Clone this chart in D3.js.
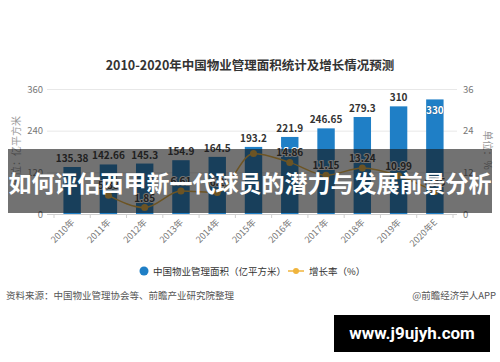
<!DOCTYPE html>
<html>
<head>
<meta charset="utf-8">
<script src="https://cdn.jsdelivr.net/npm/d3@7/dist/d3.min.js"></script>
<style>
  body { margin: 0; background: #fff; }
  svg { display: block; font-family: "Noto Sans CJK SC", "Noto Sans", sans-serif; }
</style>
</head>
<body>
<script>
var years = ['2010年', '2011年', '2012年', '2013年', '2014年', '2015年', '2016年', '2017年', '2018年', '2019年', '2020年E'];
var area = [135.38, 142.66, 145.3, 154.9, 164.5, 193.2, 221.9, 246.65, 279.3, 310, 330];
var areaLabels = ['135.38', '142.66', '145.3', '154.9', '164.5', '193.2', '221.9', '246.65', '279.3', '310', '330'];
// growth rate, no value for 2010
var rate = [null, 5.38, 1.85, 6.61, 6.20, 17.45, 14.86, 11.15, 13.24, 10.99, 6.45];
var rateLabels = ['', '5.38', '1.85', '6.61', '6.2', '', '14.86', '11.15', '13.24', '10.99', '6.45'];
var leftTicks = [0, 120, 240, 360];
var rightTicks = [0, 12, 24, 36];

var width = 500, height = 362;
var barColor = '#1f7fc6', lineColor = '#f0b43c';

var svg = d3.select('body').append('svg')
  .attr('width', width)
  .attr('height', height);

svg.append('rect').attr('width', width).attr('height', height).attr('fill', '#fff');

var x = d3.scaleBand().domain(years).range([54, 453]).paddingInner(0.52).paddingOuter(0.26);
var y = d3.scaleLinear().domain([0, 360]).range([214, 89]);
var yr = d3.scaleLinear().domain([0, 36]).range([214, 89]);

// title
svg.append('text')
  .attr('x', 250).attr('y', 70)
  .attr('text-anchor', 'middle')
  .attr('font-size', 12.5).attr('font-weight', 'bold').attr('fill', '#333')
  .text('2010-2020年中国物业管理面积统计及增长情况预测');

// grid
var g = svg.append('g');
g.selectAll('line.grid')
  .data(leftTicks)
  .enter().append('line')
  .attr('x1', 47).attr('x2', 457)
  .attr('y1', function(d){ return y(d) + 0.5; })
  .attr('y2', function(d){ return y(d) + 0.5; })
  .attr('stroke', function(d){ return d == 0 ? '#cfcfcf' : '#e8e8e8'; })
  .attr('stroke-width', 1);

// tick marks on x axis
g.selectAll('line.xt')
  .data(years.concat(['end']))
  .enter().append('line')
  .attr('x1', function(d, i){ return 54 + i * x.step() - x.step() * 0.26 + x.step() * 0.26; })
  .attr('x2', function(d, i){ return 54 + i * x.step(); })
  .attr('y1', 214).attr('y2', 218)
  .attr('stroke', '#cfcfcf');

// left axis labels
g.selectAll('text.yl')
  .data(leftTicks)
  .enter().append('text')
  .attr('x', 43).attr('y', function(d){ return y(d) + 3.5; })
  .attr('text-anchor', 'end')
  .attr('font-size', 9.5).attr('fill', '#777')
  .text(function(d){ return d; });

// right axis labels
g.selectAll('text.yr')
  .data(rightTicks)
  .enter().append('text')
  .attr('x', 463).attr('y', function(d){ return yr(d) + 3.5; })
  .attr('text-anchor', 'start')
  .attr('font-size', 9.5).attr('fill', '#777')
  .text(function(d){ return d; });

// axis titles
svg.append('text')
  .attr('transform', 'translate(20,151) rotate(-90)')
  .attr('text-anchor', 'middle')
  .attr('font-size', 10).attr('fill', '#999')
  .text('单位：亿平方米');
svg.append('text')
  .attr('transform', 'translate(484,150) rotate(90)')
  .attr('text-anchor', 'middle')
  .attr('font-size', 10).attr('fill', '#999')
  .text('单位：%');

// bars
g.selectAll('rect.bar')
  .data(area)
  .enter().append('rect')
  .attr('x', function(d, i){ return x(years[i]); })
  .attr('y', function(d){ return y(d); })
  .attr('width', x.bandwidth())
  .attr('height', function(d){ return y(0) - y(d); })
  .attr('fill', barColor);

// bar labels
g.selectAll('text.bl')
  .data(area)
  .enter().append('text')
  .attr('x', function(d, i){ return x(years[i]) + x.bandwidth() / 2; })
  .attr('y', function(d, i){ return i == area.length - 1 ? y(d) + 15 : y(d) - 5; })
  .attr('text-anchor', 'middle')
  .attr('font-size', 10).attr('font-weight', 'bold')
  .attr('fill', function(d, i){ return i == area.length - 1 ? '#fff' : '#333'; })
  .attr('stroke', function(d, i){ return i == area.length - 1 ? '#1a4f7a' : 'none'; })
  .attr('stroke-width', 0.6)
  .attr('paint-order', 'stroke')
  .text(function(d, i){ return areaLabels[i]; });

// growth line
var pts = rate.map(function(d, i){ return {v: d, i: i}; }).filter(function(d){ return d.v != null; });
var line = d3.line()
  .x(function(d){ return x(years[d.i]) + x.bandwidth() / 2; })
  .y(function(d){ return yr(d.v); })
  .curve(d3.curveMonotoneX);
g.append('path')
  .datum(pts)
  .attr('d', line)
  .attr('fill', 'none')
  .attr('stroke', lineColor)
  .attr('stroke-width', 1.5);
g.selectAll('circle.pt')
  .data(pts)
  .enter().append('circle')
  .attr('cx', function(d){ return x(years[d.i]) + x.bandwidth() / 2; })
  .attr('cy', function(d){ return yr(d.v); })
  .attr('r', 3.5)
  .attr('fill', lineColor);
g.selectAll('text.rl')
  .data(pts)
  .enter().append('text')
  .attr('x', function(d){ return x(years[d.i]) + x.bandwidth() / 2; })
  .attr('y', function(d){ return yr(d.v) - 6; })
  .attr('text-anchor', 'middle')
  .attr('font-size', 10).attr('font-weight', 'bold')
  .attr('fill', '#333')
  .attr('stroke', '#fff').attr('stroke-width', 2).attr('paint-order', 'stroke')
  .text(function(d){ return rateLabels[d.i]; });

// x labels
g.selectAll('text.xl')
  .data(years)
  .enter().append('text')
  .attr('transform', function(d){ return 'translate(' + (x(d) + x.bandwidth() / 2 + 3) + ',223) rotate(-45)'; })
  .attr('text-anchor', 'end')
  .attr('font-size', 9).attr('fill', '#777')
  .text(function(d){ return d; });

// legend
var lg = svg.append('g').attr('font-size', 9.5).attr('fill', '#333');
lg.append('circle').attr('cx', 144).attr('cy', 271).attr('r', 4.5).attr('fill', barColor);
lg.append('text').attr('x', 153).attr('y', 274.5).text('中国物业管理面积（亿平方米）');
lg.append('line').attr('x1', 288).attr('x2', 304).attr('y1', 271).attr('y2', 271).attr('stroke', lineColor).attr('stroke-width', 1.5);
lg.append('circle').attr('cx', 296).attr('cy', 271).attr('r', 3).attr('fill', lineColor);
lg.append('text').attr('x', 309).attr('y', 274.5).text('增长率（%）');

// source
svg.append('text').attr('x', 6).attr('y', 299)
  .attr('font-size', 9.5).attr('fill', '#555')
  .text('资料来源：中国物业管理协会等、前瞻产业研究院整理');
svg.append('text').attr('x', 496).attr('y', 299)
  .attr('text-anchor', 'end')
  .attr('font-size', 9.5).attr('fill', '#555')
  .text('@前瞻经济学人APP');

// overlay banner
svg.append('rect')
  .attr('x', 8).attr('y', 149).attr('width', 484).attr('height', 64)
  .attr('fill', 'rgba(20,20,20,0.6)');
svg.append('text')
  .attr('x', 250).attr('y', 192)
  .attr('text-anchor', 'middle')
  .attr('font-size', 23).attr('font-weight', 'bold').attr('fill', '#fff')
  .text('如何评估西甲新一代球员的潜力与发展前景分析');

// site box
svg.append('rect')
  .attr('x', 334).attr('y', 315).attr('width', 156).attr('height', 37)
  .attr('fill', '#000');
svg.append('text')
  .attr('x', 412).attr('y', 339)
  .attr('text-anchor', 'middle')
  .attr('font-family', 'Roboto, "Open Sans", sans-serif')
  .attr('font-size', 17).attr('font-weight', 'bold').attr('fill', '#fff')
  .text('www.j9ujyh.com');
</script>
</body>
</html>
